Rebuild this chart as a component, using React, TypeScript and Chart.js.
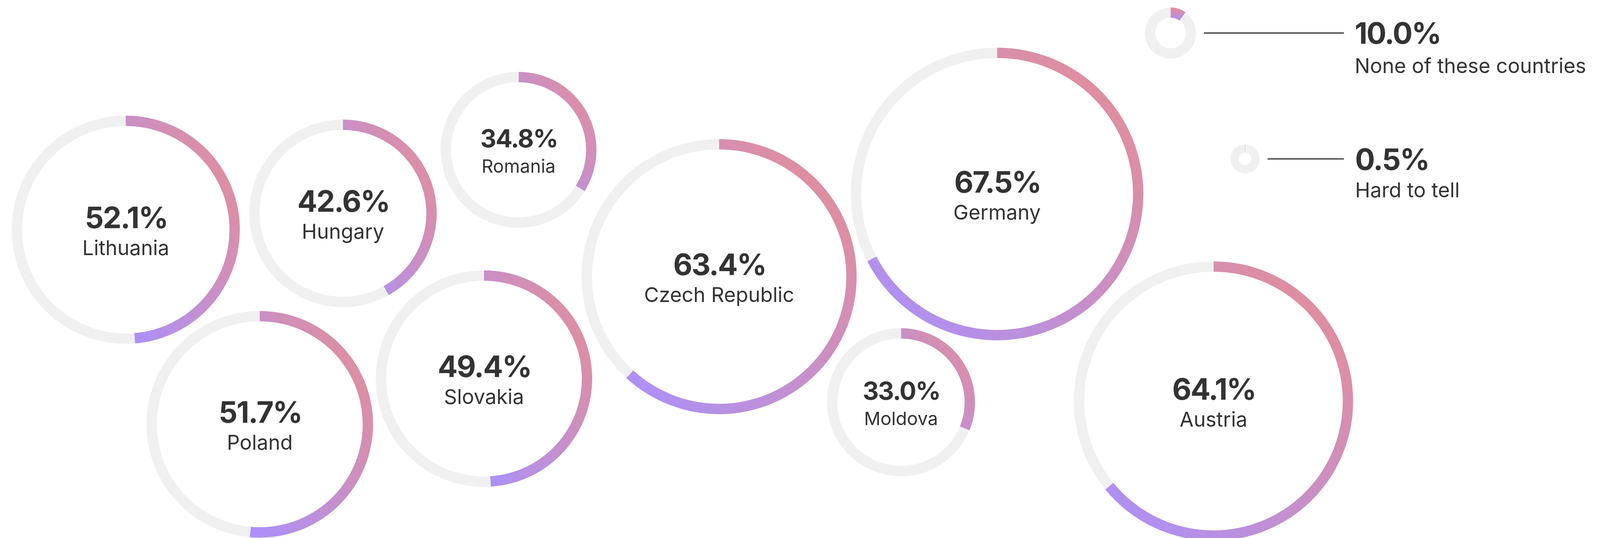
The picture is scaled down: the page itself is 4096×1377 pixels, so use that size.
import React, { useEffect, useRef } from 'react';
import { Chart, registerables } from 'chart.js';

Chart.register(...registerables);

// ---------- data ----------
const countries = ['Lithuania', 'Hungary', 'Romania', 'Poland', 'Slovakia', 'Czech Republic', 'Germany', 'Moldova', 'Austria'];
// value printed in the centre of each ring
const shares = [52.1, 42.6, 34.8, 51.7, 49.4, 63.4, 67.5, 33.0, 64.1];
// share of the ring that is filled, as read from the rings themselves
const arcShares = [48.7, 41.9, 33.9, 51.4, 49.0, 61.8, 67.4, 31.2, 64.1];
const otherLabels = ['None of these countries', 'Hard to tell'];
const otherShares = [10.0, 0.5];

// ---------- layout (reference pixels, 4168 x 1401) ----------
const S = 4096 / 4168;
const bubbleLayout = [
  { cx: 328, cy: 598, r: 297, small: false },
  { cx: 893, cy: 555, r: 244, small: false },
  { cx: 1351, cy: 390, r: 203, small: true },
  { cx: 677, cy: 1105, r: 295, small: false },
  { cx: 1261, cy: 986, r: 282, small: false },
  { cx: 1873, cy: 720, r: 358, small: false },
  { cx: 2597, cy: 505, r: 381, small: false },
  { cx: 2347, cy: 1048, r: 193, small: true },
  { cx: 3161, cy: 1045, r: 364, small: false },
];
const legendLayout = [
  { cx: 3049.5, cy: 86, r: 66.7, ring: 26.7, lineX0: 3136, lineX1: 3501, textX: 3529, pctBase: 114, labBase: 190, top: 0, bottom: 240 },
  { cx: 3243, cy: 414, r: 38, ring: 21.5, lineX0: 3302, lineX1: 3501, textX: 3530, pctBase: 442.5, labBase: 514, top: 350, bottom: 545 },
];
const RING = 27;

// ---------- styles ----------
const GREY = '#F0F0F0';
const PINK = '#E98E8E';
const PURPLE = '#A990FD';
const TEXT = '#333333';
const FONT = 'Inter, "Noto Sans", sans-serif';
const PCT_WEIGHT = 700;
const PCT_SPACING = -0.032; // em

function arcBox(cx: number, cy: number, R: number, r: number, frac: number) {
  const a0 = -Math.PI / 2;
  const a1 = a0 + 2 * Math.PI * frac;
  const xs: number[] = [];
  const ys: number[] = [];
  for (const rad of [R, r]) {
    for (const a of [a0, a1]) {
      xs.push(cx + rad * Math.cos(a));
      ys.push(cy + rad * Math.sin(a));
    }
  }
  for (let k = 0; k <= 3; k++) {
    const a = (k * Math.PI) / 2;
    if (a > a0 && a < a1) {
      xs.push(cx + R * Math.cos(a));
      ys.push(cy + R * Math.sin(a));
    }
  }
  return { xmin: Math.min(...xs), xmax: Math.max(...xs), ymin: Math.min(...ys), ymax: Math.max(...ys) };
}

function arcGradient(g2d: CanvasRenderingContext2D, cx: number, cy: number, R: number, r: number, frac: number, vertical: boolean) {
  const { xmin, xmax, ymin, ymax } = arcBox(cx, cy, R, r, frac);
  let g: CanvasGradient;
  if (vertical) {
    g = g2d.createLinearGradient(0, ymin, 0, Math.max(ymax, ymin + 0.5));
  } else {
    const W = Math.max(xmax - xmin, 0.5);
    const H = Math.max(ymax - ymin, 0.5);
    const a = -1 / (2 * W);
    const b = 1 / (2 * H);
    const d = a * a + b * b;
    g = g2d.createLinearGradient(xmax, ymin, xmax + a / d, ymin + b / d);
  }
  g.addColorStop(0, PINK);
  g.addColorStop(1, PURPLE);
  return g;
}

function setSpacing(ctx: CanvasRenderingContext2D, px: number) {
  (ctx as any).letterSpacing = `${px}px`;
}

type DonutProps = {
  value: number;
  left: number;
  top: number;
  width: number;
  height: number;
  padding: { left: number; top: number; right: number; bottom: number };
  ringPx: number;
  vertical: boolean;
  drawText: (ctx: CanvasRenderingContext2D, area: { cx: number; cy: number }) => void;
};

function Donut({ value, left, top, width, height, padding, ringPx, vertical, drawText }: DonutProps) {
  const ref = useRef<HTMLCanvasElement | null>(null);
  useEffect(() => {
    const canvas = ref.current;
    if (!canvas) return;
    const radius = Math.min(width - padding.left - padding.right, height - padding.top - padding.bottom) / 2;
    const chart = new Chart(canvas, {
      type: 'doughnut',
      data: {
        labels: ['share', 'rest'],
        datasets: [
          {
            data: [value, 100 - value],
            borderWidth: 0,
            backgroundColor: (c: any) => {
              if (c.dataIndex !== 0) return GREY;
              const ca = c.chart.chartArea;
              if (!ca) return PINK;
              const cx = (ca.left + ca.right) / 2;
              const cy = (ca.top + ca.bottom) / 2;
              const R = Math.min(ca.right - ca.left, ca.bottom - ca.top) / 2;
              return arcGradient(c.chart.ctx, cx, cy, R, R - ringPx, value / 100, vertical);
            },
          },
        ],
      },
      options: {
        responsive: false,
        animation: false,
        events: [],
        cutout: radius - ringPx,
        layout: { padding },
        plugins: { legend: { display: false }, tooltip: { enabled: false } },
      },
      plugins: [
        {
          id: 'centerText',
          afterDraw(ch: any) {
            const ca = ch.chartArea;
            const ctx = ch.ctx as CanvasRenderingContext2D;
            ctx.save();
            drawText(ctx, { cx: (ca.left + ca.right) / 2, cy: (ca.top + ca.bottom) / 2 });
            ctx.restore();
          },
        },
      ],
    } as any);
    return () => chart.destroy();
  }, []);
  return (
    <canvas
      ref={ref}
      width={width}
      height={height}
      style={{ position: 'absolute', left, top, width, height }}
    />
  );
}

export default function App() {
  const bubbles = countries.map((name, i) => {
    const L = bubbleLayout[i];
    const size = Math.round(2 * L.r * S);
    const left = Math.round((L.cx - L.r) * S);
    const top = Math.round((L.cy - L.r) * S);
    const pctSize = (L.small ? 65 : 77) * S;
    const labSize = (L.small ? 47.5 : 53) * S;
    const pctOff = (L.small ? -6.5 : -4) * S;
    const labOff = (L.small ? 60 : 66.5) * S;
    const v = shares[i];
    return (
      <Donut
        key={name}
        value={arcShares[i]}
        left={left}
        top={top}
        width={size}
        height={size}
        padding={{ left: 0, top: 0, right: 0, bottom: 0 }}
        ringPx={RING * S}
        vertical={false}
        drawText={(ctx, a) => {
          ctx.fillStyle = TEXT;
          ctx.textAlign = 'center';
          ctx.textBaseline = 'alphabetic';
          const sp = PCT_SPACING * pctSize;
          setSpacing(ctx, sp);
          ctx.font = `${PCT_WEIGHT} ${pctSize}px ${FONT}`;
          ctx.fillText(`${v.toFixed(1)}%`, a.cx - sp / 2, a.cy + pctOff);
          setSpacing(ctx, 0);
          ctx.font = `400 ${labSize}px ${FONT}`;
          ctx.fillText(name, a.cx, a.cy + labOff);
        }}
      />
    );
  });

  const legends = otherLabels.map((name, i) => {
    const L = legendLayout[i];
    const left = Math.round((L.cx - L.r) * S);
    const top = Math.round(L.top * S);
    const width = Math.round(4168 * S) - left;
    const height = Math.round((L.bottom - L.top) * S);
    const d = 2 * L.r * S;
    const padTop = (L.cy - L.r) * S - top;
    const padding = { left: 0, top: padTop, right: width - d, bottom: height - padTop - d };
    const v = otherShares[i];
    return (
      <Donut
        key={name}
        value={v}
        left={left}
        top={top}
        width={width}
        height={height}
        padding={padding}
        ringPx={L.ring * S}
        vertical={true}
        drawText={(ctx) => {
          const y = L.cy * S - top;
          ctx.strokeStyle = TEXT;
          ctx.lineWidth = 3 * S;
          ctx.beginPath();
          ctx.moveTo(L.lineX0 * S - left, y);
          ctx.lineTo(L.lineX1 * S - left, y);
          ctx.stroke();
          ctx.fillStyle = TEXT;
          ctx.textAlign = 'left';
          ctx.textBaseline = 'alphabetic';
          const pctSize = 77 * S;
          setSpacing(ctx, PCT_SPACING * pctSize);
          ctx.font = `${PCT_WEIGHT} ${pctSize}px ${FONT}`;
          ctx.fillText(`${v.toFixed(1)}%`, L.textX * S - left, L.pctBase * S - top);
          setSpacing(ctx, 0);
          ctx.font = `400 ${53 * S}px ${FONT}`;
          ctx.fillText(name, L.textX * S - left, L.labBase * S - top);
        }}
      />
    );
  });

  return (
    <div
      style={{
        position: 'absolute',
        left: 0,
        top: 0,
        width: 4096,
        height: 1377,
        overflow: 'hidden',
        background: '#ffffff',
      }}
    >
      {bubbles}
      {legends}
    </div>
  );
}
